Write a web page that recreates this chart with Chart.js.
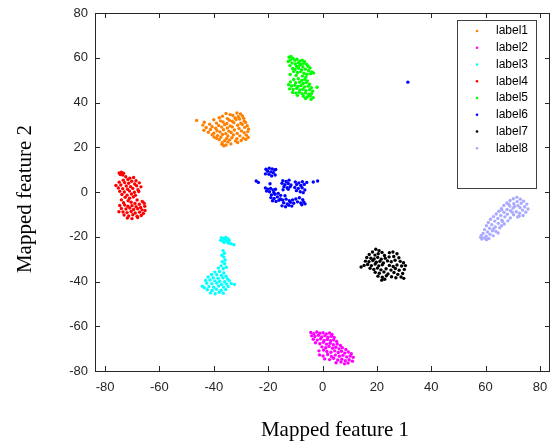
<!DOCTYPE html>
<html>
<head>
<meta charset="utf-8">
<script src="https://cdn.jsdelivr.net/npm/chart.js@4/dist/chart.umd.min.js"></script>
<style>
  html, body { margin: 0; padding: 0; background: #fff; }
  #wrap { width: 552px; height: 445px; }
</style>
</head>
<body>
<div id="wrap"><canvas id="tsne" width="552" height="445"></canvas></div>
<script>
// pontos (feature 1, feature 2)
const label1Points = [
  [-46.3,32.0],
  [-35.5,35.1],[-34.0,34.6],[-31.5,35.3],[-30.2,34.9],
  [-36.8,33.9],[-33.0,34.2],[-31.0,33.6],[-29.5,34.1],
  [-38.0,33.2],[-35.0,32.8],[-32.2,33.1],[-30.5,32.6],[-29.0,33.0],
  [-40.0,32.3],[-37.5,31.8],[-34.3,32.1],[-33.2,31.6],[-31.8,32.4],[-28.8,31.7],
  [-43.5,31.2],[-39.0,30.8],[-36.6,31.3],[-35.2,30.6],[-32.6,31.0],[-30.0,30.7],[-28.3,31.1],
  [-44.0,29.9],[-41.5,30.3],[-38.2,29.7],[-36.0,30.1],[-34.0,29.5],[-31.2,29.8],[-29.5,30.2],[-27.7,29.6],
  [-42.8,28.8],[-40.6,29.2],[-39.3,28.5],[-37.1,29.0],[-35.0,28.6],[-33.2,29.1],[-30.7,28.4],[-28.6,28.9],[-27.2,28.2],
  [-43.6,27.6],[-41.2,27.9],[-38.8,27.4],[-36.4,27.8],[-34.4,27.2],[-32.4,27.7],[-29.8,27.3],[-27.5,27.0],
  [-42.0,26.7],[-40.0,26.3],[-37.7,26.8],[-35.6,26.1],[-33.6,26.6],[-31.4,26.2],[-28.8,26.5],
  [-40.6,25.6],[-38.6,25.2],[-36.8,25.7],[-34.8,25.0],[-32.8,25.5],[-30.4,25.1],[-28.0,25.4],
  [-39.9,24.6],[-39.0,24.0],[-37.4,24.5],[-35.3,23.9],[-33.3,24.3],[-31.5,23.8],[-29.2,24.1],[-27.3,24.4],
  [-38.0,23.4],[-36.0,22.9],[-34.1,23.3],[-32.0,22.8],[-29.9,23.0],[-28.2,23.5],
  [-36.9,22.0],[-34.8,22.4],[-31.2,22.1],
  [-37.0,21.3],[-35.5,21.0],[-33.7,21.5],
  [-36.3,20.6]
];

const label2Points = [
  [-4.3,-62.8],[-3.2,-63.3],[-2.1,-62.6],[-1.0,-63.1],[0.2,-62.9],[1.4,-63.4],[2.6,-63.0],[3.5,-63.7],
  [-4.0,-64.3],[-2.8,-64.6],[-1.5,-64.0],[-0.3,-64.8],[0.9,-64.2],[2.0,-64.9],[3.2,-64.5],[4.3,-65.0],
  [-3.4,-65.8],[-1.9,-66.2],[-0.7,-65.6],[0.6,-66.4],[1.8,-65.9],[3.0,-66.5],[4.1,-66.1],[5.2,-66.8],
  [-2.6,-67.4],[-1.0,-67.8],[0.3,-67.2],[1.5,-68.0],[2.8,-67.6],[4.0,-68.3],[5.4,-67.9],[6.6,-68.6],
  [-0.2,-69.2],[1.2,-69.6],[2.4,-69.0],[3.7,-69.8],[4.9,-69.4],[6.1,-70.1],[7.3,-69.6],[8.6,-70.4],
  [-1.3,-71.0],[0.4,-70.6],[1.6,-71.3],[3.1,-71.6],[4.5,-71.0],[5.8,-71.7],[7.0,-71.2],[8.2,-72.0],[9.5,-71.5],[10.6,-72.3],
  [-1.1,-72.8],[0.2,-73.3],[1.9,-72.6],[3.3,-73.5],[4.7,-72.9],[6.2,-73.4],[7.5,-73.0],[8.9,-73.7],[10.2,-73.3],[11.3,-73.9],
  [0.8,-74.6],[2.6,-74.9],[4.1,-74.3],[5.6,-75.1],[7.1,-74.7],[8.4,-75.4],[9.8,-75.0],[11.0,-75.6],
  [5.0,-76.3],[6.8,-76.0],[8.1,-76.8],[9.4,-76.4]
];

const label3Points = [
  [-37.2,-20.4],[-36.4,-20.8],[-35.6,-20.3],[-34.8,-20.9],[-37.5,-21.6],[-36.7,-21.9],[-35.9,-21.4],
  [-35.1,-22.0],[-34.3,-21.7],[-36.2,-22.6],[-34.6,-22.9],[-33.6,-23.1],[-32.6,-23.6],
  [-36.6,-26.2],[-36.1,-27.4],[-37.0,-28.3],[-36.3,-29.1],[-35.8,-30.4],[-36.9,-31.2],[-36.0,-32.1],
  [-37.3,-33.0],[-35.4,-33.6],[-36.5,-34.3],[-38.3,-34.0],
  [-39.6,-35.8],[-37.9,-35.5],[-36.3,-36.2],[-40.8,-36.9],[-38.9,-37.0],[-37.2,-37.3],[-35.5,-37.6],
  [-42.1,-38.0],[-40.2,-38.3],[-38.4,-38.6],[-36.6,-38.4],[-34.9,-38.9],
  [-43.0,-39.5],[-41.4,-39.3],[-39.6,-39.7],[-37.8,-39.9],[-36.0,-40.1],[-34.3,-39.6],
  [-42.6,-40.8],[-40.7,-41.0],[-38.9,-40.7],[-37.1,-41.3],[-35.3,-41.1],[-33.6,-40.9],[-32.4,-41.3],
  [-44.2,-42.1],[-43.5,-42.8],[-41.8,-42.3],[-40.0,-42.6],[-38.2,-42.0],[-36.4,-42.5],[-34.7,-42.2],
  [-42.4,-43.7],[-40.6,-44.0],[-39.0,-43.5],[-37.3,-43.9],[-35.6,-43.6],
  [-41.2,-45.1],[-39.5,-45.5],[-38.0,-44.8],[-36.5,-45.2]
];

const label4Points = [
  [-74.8,8.5],[-74.0,8.8],[-73.2,8.4],[-74.4,7.8],[-73.5,7.6],
  [-72.4,6.8],[-70.9,6.2],[-69.5,6.5],[-71.6,5.6],[-73.3,5.3],[-68.6,5.0],[-70.2,4.8],[-74.8,4.4],
  [-72.8,4.2],[-71.3,3.9],[-69.1,3.6],[-67.4,4.1],
  [-76.0,2.9],[-74.2,3.1],[-72.2,2.7],[-70.6,2.4],[-68.4,2.8],[-66.8,2.3],[-75.1,1.8],[-73.5,1.5],
  [-71.7,1.2],[-69.8,1.6],[-67.9,1.0],
  [-74.6,0.3],[-72.9,0.0],[-71.0,0.4],[-69.2,-0.1],[-67.6,0.2],[-73.8,-1.1],[-71.9,-1.4],[-70.3,-0.9],[-68.8,-1.5],
  [-72.6,-2.4],[-71.0,-2.8],[-69.6,-2.2],
  [-74.0,-3.5],[-71.5,-3.9],[-68.2,-3.6],[-66.3,-4.2],[-73.2,-4.8],[-70.4,-4.6],[-69.0,-5.1],[-67.4,-5.5],[-65.6,-5.0],
  [-74.6,-6.0],[-72.8,-5.8],[-71.6,-6.4],[-70.1,-6.1],[-68.6,-6.6],[-66.9,-6.9],[-65.4,-6.4],
  [-74.0,-7.4],[-72.3,-7.6],[-70.9,-7.2],[-69.5,-7.8],[-68.0,-7.5],[-66.4,-8.0],[-65.3,-8.3],
  [-74.9,-8.8],[-73.4,-8.9],[-71.9,-9.2],[-70.4,-8.7],[-68.9,-9.4],[-67.3,-9.0],[-65.9,-9.6],
  [-73.0,-10.3],[-71.3,-10.7],[-69.8,-10.2],[-68.2,-10.8],[-66.7,-10.5],
  [-71.8,-11.6],[-70.1,-11.9],[-68.0,-11.4]
];

const label5Points = [
  [-12.3,60.2],[-11.6,60.6],[-10.9,59.8],[-11.8,59.0],[-12.6,58.3],[-10.2,58.9],[-9.4,59.3],[-8.3,58.5],[-7.5,58.9],[-6.6,58.2],
  [-11.2,57.6],[-10.0,57.2],[-8.9,57.8],[-7.9,57.1],[-6.9,57.5],[-5.8,57.0],[-12.0,56.5],[-9.5,56.1],[-8.4,56.6],[-7.2,55.9],
  [-5.3,56.2],[-4.6,55.4],
  [-11.0,55.2],[-10.1,54.8],[-8.8,55.3],[-7.7,54.6],[-6.3,54.9],[-5.1,54.2],[-3.9,53.6],[-10.6,53.9],[-9.2,53.4],[-8.0,53.8],
  [-6.8,53.1],[-5.7,52.6],[-4.4,52.9],[-3.3,53.2],
  [-11.9,52.5],[-9.7,52.1],[-7.4,51.8],[-6.1,51.4],
  [-10.6,50.3],[-8.9,50.6],[-7.6,49.9],[-6.5,50.4],[-5.6,49.6],[-11.8,49.2],[-9.9,48.8],[-8.4,49.1],[-7.1,48.5],[-6.0,48.9],[-4.8,48.2],
  [-12.5,47.9],[-11.4,47.4],[-10.2,47.7],[-9.0,47.2],[-7.9,47.6],[-6.6,46.9],[-5.3,47.3],[-4.1,46.6],[-2.0,46.8],
  [-12.1,46.1],[-10.8,45.8],[-9.5,46.3],[-8.3,45.6],[-7.2,45.9],[-6.1,45.3],[-4.7,45.7],[-3.6,45.1],
  [-11.0,44.5],[-9.8,44.2],[-8.6,44.6],[-7.5,43.9],[-6.3,44.3],[-5.1,43.7],[-4.0,44.0],
  [-9.2,43.2],[-7.0,42.8],[-5.6,42.5],[-4.5,42.9],[-3.4,42.2],[-6.2,41.8],[-4.2,41.4]
];

const label6Points = [
  [31.4,49.1],
  [-20.8,10.2],[-19.6,10.6],[-18.5,10.3],[-17.6,9.8],[-20.2,9.3],[-19.0,9.0],[-18.1,8.6],[-21.0,8.1],
  [-19.7,7.9],[-17.4,7.6],[-18.7,7.2],[-17.2,10.1],
  [-24.4,4.9],[-23.6,4.3],[-19.3,3.7],
  [-5.8,4.3],[-3.4,4.5],[-1.8,4.9],
  [-14.6,5.1],[-13.4,4.7],[-12.3,5.3],[-14.9,3.9],[-13.8,3.3],[-12.6,3.8],[-11.6,3.1],[-14.2,2.4],[-13.0,1.9],[-11.9,2.3],
  [-12.6,1.2],[-14.5,1.0],
  [-10.0,4.5],[-8.7,4.1],[-7.4,4.6],[-9.5,3.3],[-8.0,2.9],[-6.7,3.4],[-10.2,2.0],[-8.9,1.6],[-7.5,1.9],[-6.5,0.9],
  [-9.6,0.6],[-8.2,0.1],[-7.1,-0.3],
  [-21.0,1.8],[-20.1,1.3],[-19.1,1.6],[-18.2,0.9],[-17.3,1.2],[-20.6,0.4],[-19.5,0.1],[-17.9,-0.2],
  [-18.8,-1.3],[-17.5,-1.0],[-16.3,-0.6],[-15.4,-1.5],[-19.0,-2.5],[-17.8,-2.9],[-16.6,-2.2],[-15.5,-3.1],
  [-18.4,-3.9],[-17.1,-4.2],[-16.0,-3.7],[-13.8,-1.7],
  [-14.7,-3.6],[-13.4,-3.2],[-12.2,-3.9],[-11.0,-3.5],[-14.3,-4.8],[-13.0,-5.3],[-11.8,-4.6],[-10.6,-5.0],
  [-14.9,-6.2],[-13.6,-6.6],[-12.4,-5.9],[-11.3,-6.3],
  [-9.8,-3.1],[-8.5,-2.6],[-7.3,-3.4],[-9.2,-4.4],[-8.0,-4.9],[-6.9,-4.5],[-7.6,-5.7],[-6.4,-5.3]
];

const label7Points = [
  [14.2,-33.5],[15.3,-32.8],
  [19.6,-25.6],[20.8,-26.2],[18.4,-26.8],[21.9,-27.0],[17.2,-27.9],[19.3,-28.2],[20.5,-27.6],[22.8,-28.4],
  [24.6,-27.1],[25.9,-26.8],[27.4,-27.6],
  [16.3,-29.3],[17.8,-29.6],[19.0,-29.9],[20.3,-29.2],[21.6,-30.0],[23.1,-29.6],[24.5,-29.0],[26.2,-28.8],[28.1,-29.4],
  [15.8,-30.9],[17.1,-31.2],[18.5,-30.6],[19.8,-31.4],[21.1,-31.0],[22.4,-31.7],[23.9,-30.8],[25.3,-31.2],[26.7,-30.5],
  [28.6,-31.0],[29.8,-31.6],
  [16.6,-32.4],[18.0,-32.9],[19.4,-32.2],[20.7,-33.0],[22.0,-32.5],[24.6,-32.8],[26.0,-33.3],[27.4,-32.6],[29.1,-33.1],[30.5,-32.9],
  [17.5,-34.1],[18.9,-34.6],[20.2,-34.0],[21.5,-34.8],[23.4,-34.3],[25.2,-34.9],[26.8,-34.2],[28.2,-35.0],[30.1,-34.6],
  [19.4,-35.9],[20.9,-36.3],[22.6,-35.7],[24.1,-36.6],[26.3,-36.0],[27.7,-36.8],[29.5,-36.4],
  [20.4,-37.6],[22.0,-38.1],[23.5,-37.4],[25.4,-37.9],[27.0,-38.3],[28.9,-38.0],[29.9,-38.6],
  [21.8,-39.4],[22.9,-39.0]
];

const label8Points = [
  [71.5,-2.4],[70.2,-3.0],[72.8,-3.2],[69.0,-3.8],[74.0,-4.1],[71.6,-4.3],[73.1,-5.0],[67.8,-4.9],[70.4,-5.2],[75.2,-5.4],
  [66.7,-6.0],[68.9,-6.3],[71.9,-6.1],[74.4,-6.6],[72.7,-7.0],[70.1,-7.2],[65.8,-7.5],[67.9,-7.8],[75.6,-7.6],[73.6,-8.1],
  [64.9,-8.6],[69.2,-8.4],[71.3,-8.8],[66.8,-9.1],[74.8,-9.0],[72.5,-9.5],[63.9,-9.8],[68.0,-9.9],[70.3,-10.2],[65.6,-10.5],
  [68.5,-5.5],[66.0,-8.0],[69.8,-9.0],[73.8,-10.5],[72.3,-10.8],[70.6,-6.5],
  [62.9,-11.0],[67.1,-11.1],[69.1,-11.6],[64.5,-11.8],[71.8,-11.2],[61.8,-12.2],[66.0,-12.6],[63.4,-13.0],[68.2,-12.9],[61.0,-13.6],
  [64.7,-14.0],[62.3,-14.6],[66.9,-14.3],[60.3,-15.1],[63.6,-15.6],[61.5,-16.2],[65.2,-16.0],[59.6,-16.8],[62.5,-17.3],[60.7,-17.9],
  [63.8,-17.6],[59.1,-18.5],[61.6,-18.9],[58.4,-19.4],[60.2,-19.8],[62.8,-19.6],[59.0,-20.5],[61.2,-20.8],[58.6,-21.0],[60.4,-21.3],
  [65.9,-15.1],[64.6,-18.3],[66.2,-13.2],[63.0,-16.4],[58.2,-20.3],[60.0,-20.9]
];

const seriesLabels = ['label1', 'label2', 'label3', 'label4', 'label5', 'label6', 'label7', 'label8'];
const seriesColors = ['#FF8000', '#FF00FF', '#00FFFF', '#FF0000', '#00FF00', '#0000FF', '#000000', '#AAAAFF'];
const seriesPoints = [label1Points, label2Points, label3Points, label4Points,
                      label5Points, label6Points, label7Points, label8Points];

const xTickValues = [-80, -60, -40, -20, 0, 20, 40, 60, 80];
const yTickValues = [-80, -60, -40, -20, 0, 20, 40, 60, 80];

const xTitle = 'Mapped feature 1';
const yTitle = 'Mapped feature 2';

const axisColor = '#262626';

// moldura com ticks para dentro, titulos e legenda no estilo do matlab
const matlabStyle = {
  id: 'matlabStyle',
  afterDraw: (chart) => {
    const ctx = chart.ctx;
    const a   = chart.chartArea;
    const sx  = chart.scales.x;
    const sy  = chart.scales.y;

    ctx.save();
    ctx.strokeStyle = axisColor;
    ctx.lineWidth   = 1;
    ctx.strokeRect(Math.round(a.left) + 0.5, Math.round(a.top) + 0.5,
                   Math.round(a.right - a.left) - 1, Math.round(a.bottom - a.top));

    ctx.beginPath();
    xTickValues.forEach((v) => {
      const px = Math.round(sx.getPixelForValue(v)) + 0.5;
      ctx.moveTo(px, a.bottom);
      ctx.lineTo(px, a.bottom - 5);
      ctx.moveTo(px, a.top);
      ctx.lineTo(px, a.top + 5);
    });
    yTickValues.forEach((v) => {
      const py = Math.round(sy.getPixelForValue(v)) + 0.5;
      ctx.moveTo(a.left, py);
      ctx.lineTo(a.left + 5, py);
      ctx.moveTo(a.right, py);
      ctx.lineTo(a.right - 5, py);
    });
    ctx.stroke();

    // titulos dos eixos
    ctx.fillStyle    = '#000';
    ctx.font         = '21px "Liberation Serif", "Times New Roman", serif';
    ctx.textAlign    = 'center';
    ctx.textBaseline = 'alphabetic';
    ctx.fillText(xTitle, 335, 436);

    ctx.save();
    ctx.translate(31, 199);
    ctx.rotate(-Math.PI / 2);
    ctx.fillText(yTitle, 0, 0);
    ctx.restore();

    // legenda
    ctx.strokeStyle = '#404040';
    ctx.strokeRect(457.5, 20.5, 79, 168);
    ctx.font         = '12px "Liberation Sans", Arial, sans-serif';
    ctx.textAlign    = 'left';
    ctx.textBaseline = 'middle';
    chart.data.datasets.forEach((ds, i) => {
      const yy = 31 + i * 16.75;
      ctx.fillStyle = ds.backgroundColor;
      ctx.beginPath();
      ctx.arc(477, yy, 1.3, 0, Math.PI * 2);
      ctx.fill();
      ctx.fillStyle = '#000';
      ctx.fillText(ds.label, 496, yy);
    });
    ctx.restore();
  }
};

const datasets = seriesLabels.map((label, i) => ({
  label          : label,
  data           : seriesPoints[i].map((p) => ({ x: p[0], y: p[1] })),
  backgroundColor: seriesColors[i],
  borderColor    : seriesColors[i],
  pointRadius    : 1.7,
  pointBorderWidth: 0,
  pointHoverRadius: 1.7
}));

const tickFont = { family: '"Liberation Sans", Arial, sans-serif', size: 13 };

new Chart(document.getElementById('tsne'), {
  type: 'scatter',
  data: { datasets: datasets },
  options: {
    responsive: false,
    animation : false,
    layout    : { padding: { left: 0, right: 2, top: 13, bottom: 0 } },
    plugins   : {
      legend : { display: false },
      tooltip: { enabled: false }
    },
    scales: {
      x: {
        type  : 'linear',
        min   : -83.7,
        max   : 83.7,
        grid  : { display: false, drawTicks: false },
        border: { display: false },
        afterBuildTicks: (scale) => { scale.ticks = xTickValues.map((v) => ({ value: v })); },
        afterFit: (scale) => {
          scale.height       = 74;
          scale.paddingLeft  = 0;
          scale.paddingRight = 0;
        },
        ticks : { color: axisColor, font: tickFont, padding: 9, maxRotation: 0, autoSkip: false }
      },
      y: {
        type  : 'linear',
        min   : -80,
        max   : 80,
        grid  : { display: false, drawTicks: false },
        border: { display: false },
        afterBuildTicks: (scale) => { scale.ticks = yTickValues.map((v) => ({ value: v })); },
        afterFit: (scale) => {
          scale.width         = 95;
          scale.paddingTop    = 0;
          scale.paddingBottom = 0;
        },
        ticks : { color: axisColor, font: tickFont, padding: 7, autoSkip: false }
      }
    }
  },
  plugins: [matlabStyle]
});
</script>
</body>
</html>
